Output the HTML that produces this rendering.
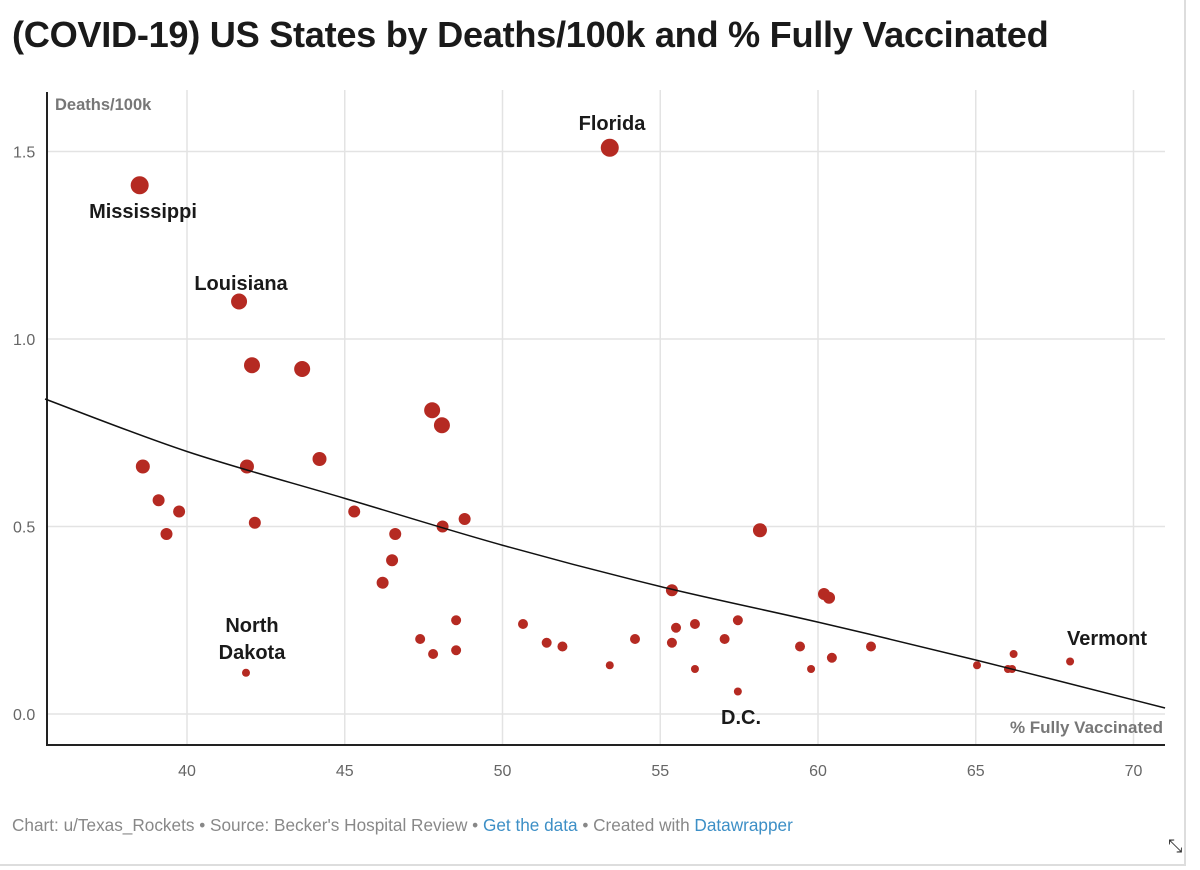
<!DOCTYPE html>
<html><head><meta charset="utf-8">
<style>
body{margin:0;background:#fff;font-family:"Liberation Sans",Arial,sans-serif;}
#wrap{position:relative;width:1200px;height:870px;overflow:hidden;}
h1{position:absolute;left:12px;top:14px;margin:0;font-size:36.2px;font-weight:bold;color:#1a1a1a;letter-spacing:-0.3px}
#foot{position:absolute;left:12px;top:815px;font-size:17.2px;color:#888}
#foot a{color:#3d8fc6;text-decoration:none}
#frame{position:absolute;left:-2px;top:-2px;width:1186px;height:866px;border-right:2px solid #ddd;border-bottom:2px solid #ddd}
</style></head><body>
<div id="wrap">
<div id="frame"></div>
<h1>(COVID-19) US States by Deaths/100k and % Fully Vaccinated</h1>
<svg id="chart" width="1200" height="870" style="position:absolute;left:0;top:0"></svg>
<div id="foot">Chart: u/Texas_Rockets • Source: Becker's Hospital Review • <a>Get the data</a> • Created with <a>Datawrapper</a></div>
<div style="position:absolute;left:1168px;top:836px;font-size:18px;color:#333">⤡</div>
</div>
<script>
const vaxPct=[38.5,53.4,41.65,42.06,43.65,47.77,48.08,38.6,41.9,44.2,39.1,39.75,39.35,42.15,45.3,46.6,48.1,48.8,46.5,46.2,58.16,55.37,60.19,60.35,48.53,47.39,47.8,48.53,50.65,51.4,51.9,53.4,54.2,55.37,55.5,56.1,56.1,57.04,57.46,57.46,59.43,59.78,60.44,61.68,65.04,66.02,66.15,66.2,67.99,41.87];
const deaths=[1.41,1.51,1.10,0.93,0.92,0.81,0.77,0.66,0.66,0.68,0.57,0.54,0.48,0.51,0.54,0.48,0.50,0.52,0.41,0.35,0.49,0.33,0.32,0.31,0.25,0.20,0.16,0.17,0.24,0.19,0.18,0.13,0.20,0.19,0.23,0.24,0.12,0.20,0.25,0.06,0.18,0.12,0.15,0.18,0.13,0.12,0.12,0.16,0.14,0.11];
const sizes=[9,9,8,8,8,8,8,7,7,7,6,6,6,6,6,6,6,6,6,6,7,6,6,6,5,5,5,5,5,5,5,4,5,5,5,5,4,5,5,4,5,4,5,5,4,4,4,4,4,4];
const labels=[["Mississippi",0],["Florida",1],["Louisiana",2],["D.C.",39],["Vermont",48],["North Dakota",49]];
const trendX=[35.5,40,45,50,55,60,65,71];
const trendY=[0.84,0.70,0.575,0.45,0.34,0.245,0.144,0.016];
const xTicks=[40,45,50,55,60,65,70];
const yTicks=[0,0.5,1.0,1.5];
const yTickLabels=["0.0","0.5","1.0","1.5"];

const svg=document.getElementById('chart');const NS="http://www.w3.org/2000/svg";
const X=v=>187+(v-40)*31.55, Y=v=>714-v*375;
function mk(t,a,p){const e=document.createElementNS(NS,t);for(const k in a)e.setAttribute(k,a[k]);(p||svg).appendChild(e);return e;}
xTicks.forEach(t=>{
 const l=mk('line',{x1:X(t),x2:X(t),y1:90,y2:745,stroke:'#e3e3e3','stroke-width':1.5});
 
 
 const tx=mk('text',{x:X(t),y:776,'text-anchor':'middle','font-size':16,fill:'#666'});tx.textContent=t;
 
 
});
yTicks.forEach((t,i)=>{
 const l=mk('line',{x1:47,x2:1165,y1:Y(t),y2:Y(t),stroke:'#e3e3e3','stroke-width':1.5});
 
 
 const tx=mk('text',{x:13,y:Y(t)+6,'font-size':16,fill:'#666'});tx.textContent=yTickLabels[i];
 
 
});
const ax=mk('line',{x1:46,x2:1165,y1:745,y2:745,stroke:'#222','stroke-width':2});


const ay=mk('line',{x1:47,x2:47,y1:92,y2:746,stroke:'#222','stroke-width':2});


let yt=mk('text',{x:55,y:110,'font-size':16.5,'font-weight':'bold',fill:'#777'});yt.textContent='Deaths/100k';


let xt=mk('text',{x:1163,y:733,'font-size':17,'font-weight':'bold',fill:'#777','text-anchor':'end'});xt.textContent='% Fully Vaccinated';


vaxPct.forEach((v,i)=>{
 const c=mk('circle',{cx:X(v),cy:Y(deaths[i]),r:sizes[i],fill:'#b52a22'});
 
 
});
// smooth Catmull-Rom path through trend points
const P=trendX.map((x,i)=>[X(x),Y(trendY[i])]);
let d='M'+P[0][0]+','+P[0][1];
for(let i=0;i<P.length-1;i++){
 const p0=P[Math.max(0,i-1)],p1=P[i],p2=P[i+1],p3=P[Math.min(P.length-1,i+2)];
 const c1=[p1[0]+(p2[0]-p0[0])/6,p1[1]+(p2[1]-p0[1])/6];
 const c2=[p2[0]-(p3[0]-p1[0])/6,p2[1]-(p3[1]-p1[1])/6];
 d+=` C${c1[0]},${c1[1]} ${c2[0]},${c2[1]} ${p2[0]},${p2[1]}`;
}
const tp=mk('path',{d:d,fill:'none',stroke:'#111','stroke-width':1.5});


const lp={"Mississippi":[143,218,[]],"Florida":[612,130,[]],"Louisiana":[241,290,[]],"D.C.":[741,724,[]],"Vermont":[1107,645,[]],"North Dakota":[252,632,["North","Dakota"]]};
labels.forEach(([n,i])=>{
 const p=lp[n];const t=mk('text',{x:p[0],y:p[1],'font-size':20,'font-weight':'bold',fill:'#1a1a1a','text-anchor':'middle'});
 if(p[2].length){p[2].forEach((s,k)=>{const ts=mk('tspan',{x:p[0],dy:k?27:0},t);ts.textContent=s;});}else t.textContent=n;
 
 
});
</script>
</body></html>
